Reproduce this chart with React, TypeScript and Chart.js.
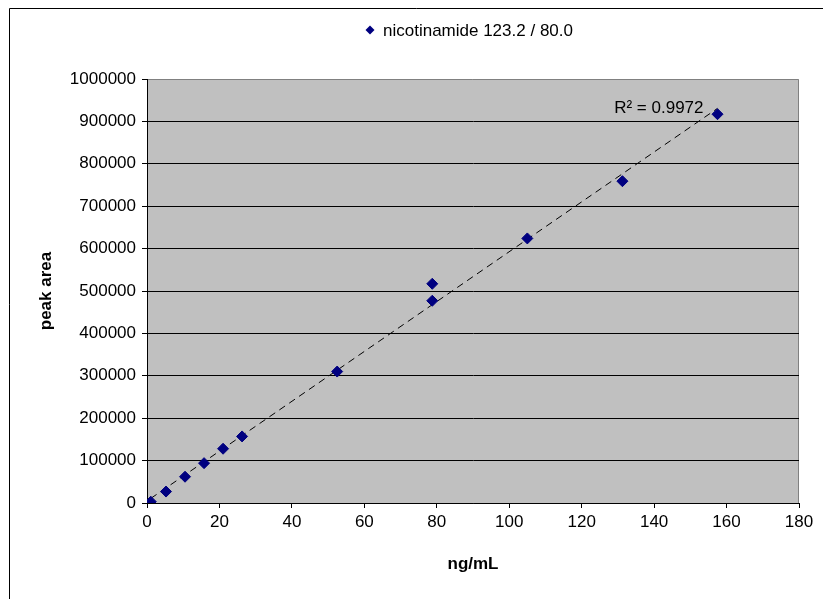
import React, { useEffect, useRef } from "react";
import { Chart, registerables } from "chart.js";

Chart.register(...registerables);

// ---- data ----
const concentrations = [1.05, 5.25, 10.5, 15.75, 21, 26.25, 52.5, 78.75, 78.75, 105, 131.25, 157.5];
const peakAreas = [3000, 27000, 62000, 94000, 128000, 157000, 310000, 517000, 477000, 624000, 759000, 917000];
const xTickValues = [0, 20, 40, 60, 80, 100, 120, 140, 160, 180];
const yTickValues = [0, 100000, 200000, 300000, 400000, 500000, 600000, 700000, 800000, 900000, 1000000];
const seriesLabel = "nicotinamide 123.2 / 80.0";
const rSquaredLabel = "R\u00B2 = 0.9972";
const xTitle = "ng/mL";
const yTitle = "peak area";

const FONT = '"Liberation Sans", Arial, sans-serif';
const MARKER = "#000080";

function linearFit(xs: number[], ys: number[]) {
  const n = xs.length;
  const mx = xs.reduce((a, b) => a + b, 0) / n;
  const my = ys.reduce((a, b) => a + b, 0) / n;
  let sxy = 0;
  let sxx = 0;
  for (let i = 0; i < n; i++) {
    sxy += (xs[i] - mx) * (ys[i] - my);
    sxx += (xs[i] - mx) * (xs[i] - mx);
  }
  const slope = sxy / sxx;
  return { slope, intercept: my - slope * mx };
}

export default function App() {
  const canvasRef = useRef<HTMLCanvasElement | null>(null);

  useEffect(() => {
    const canvas = canvasRef.current;
    if (!canvas) return;
    const fit = linearFit(concentrations, peakAreas);
    const xMinData = Math.min(...concentrations);
    const xMaxData = Math.max(...concentrations);
    const trend = [
      { x: xMinData, y: fit.slope * xMinData + fit.intercept },
      { x: xMaxData, y: fit.slope * xMaxData + fit.intercept },
    ];
    const points = concentrations.map((x, i) => ({ x, y: peakAreas[i] }));

    const decor = {
      id: "decor",
      beforeDraw(chart: any) {
        const { ctx, chartArea: a } = chart;
        ctx.save();
        ctx.fillStyle = "#ffffff";
        ctx.fillRect(0, 0, chart.width, chart.height);
        // outer frame
        ctx.strokeStyle = "#000000";
        ctx.lineWidth = 1;
        ctx.beginPath();
        ctx.moveTo(9.5, chart.height + 2);
        ctx.lineTo(9.5, 8.5);
        ctx.lineTo(chart.width + 2, 8.5);
        ctx.stroke();
        // plot area
        ctx.fillStyle = "#c0c0c0";
        ctx.fillRect(a.left, a.top, a.right - a.left, a.bottom - a.top);
        ctx.strokeStyle = "#808080";
        ctx.beginPath();
        ctx.moveTo(a.left, a.top + 0.5);
        ctx.lineTo(a.right - 0.5, a.top + 0.5);
        ctx.lineTo(a.right - 0.5, a.bottom);
        ctx.stroke();
        ctx.restore();
      },
      afterDraw(chart: any) {
        const { ctx } = chart;
        const xs = chart.scales.x;
        const ys = chart.scales.y;
        ctx.save();
        // legend
        const lx = 370;
        const ly = 30;
        ctx.fillStyle = MARKER;
        ctx.beginPath();
        ctx.moveTo(lx - 4.5, ly);
        ctx.lineTo(lx, ly - 4.5);
        ctx.lineTo(lx + 4.5, ly);
        ctx.lineTo(lx, ly + 4.5);
        ctx.closePath();
        ctx.fill();
        ctx.fillStyle = "#000000";
        ctx.font = `17px ${FONT}`;
        ctx.textAlign = "left";
        ctx.textBaseline = "middle";
        ctx.fillText(seriesLabel, 383, ly + 1);
        // R squared label near the end of the trendline
        const last = concentrations.length - 1;
        const px = xs.getPixelForValue(concentrations[last]);
        const py = ys.getPixelForValue(peakAreas[last]);
        ctx.textAlign = "right";
        ctx.fillText(rSquaredLabel, px - 14, py - 6);
        ctx.restore();
      },
    };

    const chart = new Chart(canvas, {
      type: "scatter",
      data: {
        datasets: [
          {
            label: seriesLabel,
            data: points,
            pointStyle: "rectRot",
            pointRadius: 5.5,
            pointBorderWidth: 1,
            backgroundColor: MARKER,
            borderColor: MARKER,
            order: 1,
          },
          {
            type: "line",
            label: "trend",
            data: trend,
            borderColor: "#000000",
            borderWidth: 1,
            borderDash: [7, 5],
            pointRadius: 0,
            fill: false,
            order: 2,
          } as any,
        ],
      },
      options: {
        animation: false,
        responsive: false,
        maintainAspectRatio: false,
        layout: { padding: { top: 79, left: 0, right: 24, bottom: 0 } },
        plugins: {
          legend: { display: false },
          tooltip: { enabled: false },
        },
        scales: {
          x: {
            type: "linear",
            min: xTickValues[0],
            max: xTickValues[xTickValues.length - 1],
            afterFit: (s: any) => {
              s.height = 96;
            },
            ticks: {
              stepSize: xTickValues[1] - xTickValues[0],
              color: "#000000",
              font: { family: FONT, size: 17 },
              padding: 4,
              maxRotation: 0,
              callback: (v: any) => String(v),
            },
            grid: {
              drawOnChartArea: false,
              drawTicks: true,
              tickLength: 5,
              color: "#000000",
            },
            border: { color: "#000000", width: 1 },
            title: {
              display: true,
              text: xTitle,
              color: "#000000",
              font: { family: FONT, size: 17, weight: "bold" },
              padding: { top: 0, bottom: 24 },
            },
          },
          y: {
            type: "linear",
            min: yTickValues[0],
            max: yTickValues[yTickValues.length - 1],
            afterFit: (s: any) => {
              s.width = 147;
            },
            ticks: {
              stepSize: yTickValues[1] - yTickValues[0],
              color: "#000000",
              font: { family: FONT, size: 17 },
              padding: 6,
              callback: (v: any) => String(v),
            },
            grid: {
              tickLength: 5,
              color: (c: any) =>
                c.tick && c.tick.value === yTickValues[yTickValues.length - 1] ? "rgba(0,0,0,0)" : "#000000",
              tickColor: "#000000",
            },
            border: { color: "#000000", width: 1 },
            title: {
              display: true,
              text: yTitle,
              color: "#000000",
              font: { family: FONT, size: 17, weight: "bold" },
              padding: { top: 36, bottom: 0 },
            },
          },
        },
      },
      plugins: [decor],
    });
    return () => chart.destroy();
  }, []);

  return (
    <div style={{ position: "absolute", left: 0, top: 0, width: 823, height: 599 }}>
      <canvas ref={canvasRef} width={823} height={599} style={{ display: "block", width: 823, height: 599 }} />
    </div>
  );
}
